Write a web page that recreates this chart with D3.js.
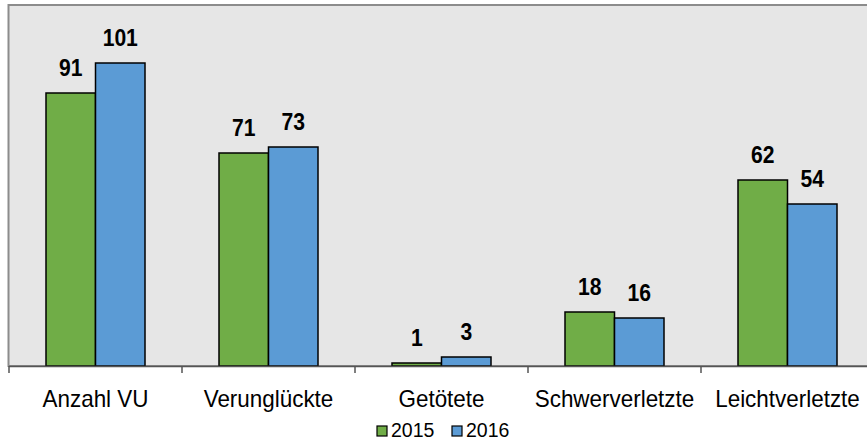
<!DOCTYPE html>
<html><head><meta charset="utf-8">
<script src="https://cdn.jsdelivr.net/npm/d3@7"></script>
<style>body{margin:0;background:#fff;}svg{display:block;font-family:"Liberation Sans",Arial,sans-serif;}</style>
</head><body>
<svg id="c" width="867" height="443"></svg>
<script>
const categories = ["Anzahl VU","Verunglückte","Getötete","Schwerverletzte","Leichtverletzte"];
const seriesNames = ["2015","2016"];
const values2015 = [91,71,1,18,62];
const values2016 = [101,73,3,16,54];
const colors = ["#70ad47","#5b9bd5"];

const svg = d3.select("#c");
const plotLeft = 9, bandW = 173, plotTop = 6, plotBottom = 366;
const x = d3.scaleBand().domain(categories).range([plotLeft, plotLeft + bandW*categories.length]).paddingInner(0).paddingOuter(0);
const inner = d3.scaleBand().domain(seriesNames).range([37, bandW-37]);
const y = d3.scaleLinear().domain([0,120]).range([plotBottom, plotTop]);

// plot area
svg.append("rect").attr("x", plotLeft-0.5).attr("y", 5).attr("width", 900).attr("height", plotBottom-5)
  .attr("fill","#e6e6e6").attr("stroke","#8c8c8c").attr("stroke-width",2);

const series = [values2015, values2016];
series.forEach((vals, si) => {
  const g = svg.append("g");
  g.selectAll("rect").data(categories).enter().append("rect")
    .attr("x", d => x(d) + inner(seriesNames[si]))
    .attr("y", (d,i) => y(vals[i]))
    .attr("width", inner.bandwidth())
    .attr("height", (d,i) => y(0) - y(vals[i]))
    .attr("fill", colors[si]).attr("stroke","#000").attr("stroke-width",1.5);
  g.selectAll("text").data(categories).enter().append("text")
    .attr("transform", (d,i) => `translate(${x(d) + inner(seriesNames[si]) + inner.bandwidth()/2},${y(vals[i]) - 17}) scale(0.88,1)`)
    .attr("text-anchor","middle").attr("font-weight","bold").attr("font-size",24)
    .attr("fill","#000").text((d,i) => vals[i]);
});

// axis
const axis = d3.axisBottom(x).tickSize(0).tickFormat(d=>d);
const ax = svg.append("g").attr("transform",`translate(0,${plotBottom})`).call(axis);
ax.select(".domain").remove();
ax.selectAll("text").attr("font-size",24).attr("fill","#000").attr("dy",0).attr("y",0)
  .attr("transform","translate(0,41) scale(0.935,1)")
  .attr("font-family","Liberation Sans, Arial, sans-serif");
svg.append("line").attr("x1",plotLeft).attr("x2",867).attr("y1",plotBottom+0.5).attr("y2",plotBottom+0.5)
  .attr("stroke","#555").attr("stroke-width",1.5);
const tickPos = d3.range(categories.length+1).map(i => plotLeft + i*bandW);
svg.selectAll(".tk").data(tickPos).enter().append("line")
  .attr("x1",d=>d).attr("x2",d=>d).attr("y1",plotBottom).attr("y2",plotBottom+7)
  .attr("stroke","#555").attr("stroke-width",1.5);

// legend
const lg = svg.append("g");
const legX = [377, 452];
seriesNames.forEach((s,i) => {
  lg.append("rect").attr("x",legX[i]).attr("y",426).attr("width",10).attr("height",10)
    .attr("fill",colors[i]).attr("stroke","#000").attr("stroke-width",1.2);
  lg.append("text").attr("transform",`translate(${legX[i]+14},437) scale(0.93,1)`)
    .attr("font-size",21).attr("fill","#000").text(s);
});
</script>
</body></html>
